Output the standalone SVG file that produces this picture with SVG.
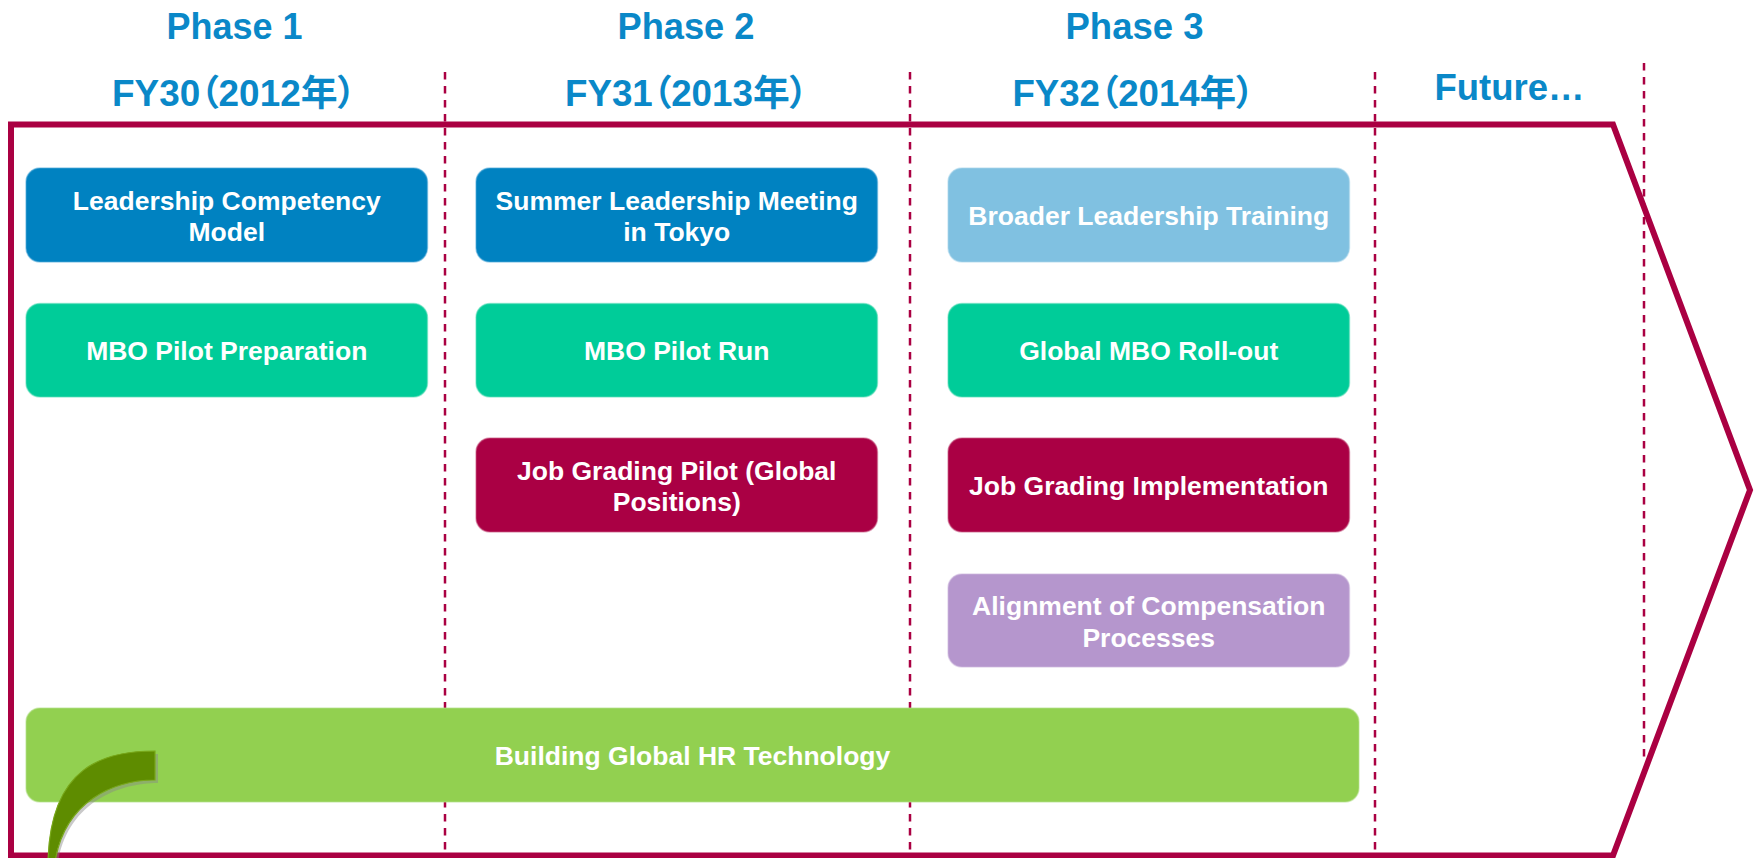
<svg xmlns="http://www.w3.org/2000/svg" width="1757" height="858" viewBox="0 0 1757 858">
<style>
.hdr{font-family:"Liberation Sans","Noto Sans CJK JP",Arial,sans-serif;font-weight:bold;font-size:36px;fill:#0A88C8;text-anchor:middle}
.fy{font-feature-settings:"palt" 1}
.bt{font-family:"Liberation Sans",Arial,sans-serif;font-weight:bold;font-size:26.5px;fill:#FFFFFF;text-anchor:middle}
.dash{stroke:#AA0042;stroke-width:2.5;stroke-dasharray:7.5 6.5;fill:none}
.box{stroke-width:1.5;stroke-opacity:0.5}
.blue{fill:#0082C1;stroke:#4DA8D8}
.teal{fill:#00CC99;stroke:#5ADDB8}
.crim{fill:#AA0044;stroke:#C85C84}
.lblue{fill:#80C1E1;stroke:#A8D6EC}
.lav{fill:#B596CD;stroke:#CDB8DD}
.lgreen{fill:#92D050;stroke:#B3E08A}
</style>
<rect width="1757" height="858" fill="#FFFFFF"/>
<g id="headers">
<text class="hdr" x="234.5" y="38.5" textLength="136" lengthAdjust="spacingAndGlyphs">Phase 1</text>
<text class="hdr" x="686" y="38.5" textLength="137" lengthAdjust="spacingAndGlyphs">Phase 2</text>
<text class="hdr" x="1134.5" y="38.5" textLength="138" lengthAdjust="spacingAndGlyphs">Phase 3</text>
<text class="hdr fy" x="234" y="106" textLength="244" lengthAdjust="spacingAndGlyphs">FY30（2012年）</text>
<text class="hdr fy" x="686.5" y="106" textLength="243" lengthAdjust="spacingAndGlyphs">FY31（2013年）</text>
<text class="hdr fy" x="1133.5" y="106" textLength="242" lengthAdjust="spacingAndGlyphs">FY32（2014年）</text>
<text class="hdr" x="1509.5" y="100" textLength="150" lengthAdjust="spacingAndGlyphs">Future…</text>
</g>
<g id="dividers">
<line class="dash" x1="445" y1="72" x2="445" y2="850"/>
<line class="dash" x1="910" y1="72" x2="910" y2="850"/>
<line class="dash" x1="1375" y1="72" x2="1375" y2="850"/>
<line class="dash" x1="1644" y1="63" x2="1644" y2="757"/>
</g>
<g id="frame">
<polygon points="11,124.5 1613,124.5 1750,490 1613,855.5 11,855.5" fill="none" stroke="#AA0042" stroke-width="6" stroke-linejoin="miter"/>
</g>
<g id="node-leadership-competency">
<rect class="box blue" x="26" y="168" width="401.5" height="94" rx="14"/>
<text class="bt" x="226.75" y="209.5">Leadership Competency</text>
<text class="bt" x="226.75" y="241">Model</text>
</g>
<g id="node-mbo-prep">
<rect class="box teal" x="26" y="303.5" width="401.5" height="93.5" rx="14"/>
<text class="bt" x="226.75" y="360">MBO Pilot Preparation</text>
</g>
<g id="node-summer-meeting">
<rect class="box blue" x="476" y="168" width="401.5" height="94" rx="14"/>
<text class="bt" x="676.75" y="209.5">Summer Leadership Meeting</text>
<text class="bt" x="676.75" y="241">in Tokyo</text>
</g>
<g id="node-mbo-run">
<rect class="box teal" x="476" y="303.5" width="401.5" height="93.5" rx="14"/>
<text class="bt" x="676.75" y="360">MBO Pilot Run</text>
</g>
<g id="node-job-grading-pilot">
<rect class="box crim" x="476" y="438" width="401.5" height="94" rx="14"/>
<text class="bt" x="676.75" y="479.5">Job Grading Pilot (Global</text>
<text class="bt" x="676.75" y="511">Positions)</text>
</g>
<g id="node-broader-training">
<rect class="box lblue" x="948" y="168" width="401.5" height="94" rx="14"/>
<text class="bt" x="1148.75" y="225">Broader Leadership Training</text>
</g>
<g id="node-global-mbo">
<rect class="box teal" x="948" y="303.5" width="401.5" height="93.5" rx="14"/>
<text class="bt" x="1148.75" y="360">Global MBO Roll-out</text>
</g>
<g id="node-job-grading-impl">
<rect class="box crim" x="948" y="438" width="401.5" height="94" rx="14"/>
<text class="bt" x="1148.75" y="495">Job Grading Implementation</text>
</g>
<g id="node-compensation">
<rect class="box lav" x="948" y="574" width="401.5" height="93" rx="14"/>
<text class="bt" x="1148.75" y="615">Alignment of Compensation</text>
<text class="bt" x="1148.75" y="646.5">Processes</text>
</g>
<g id="node-hr-technology">
<rect class="box lgreen" x="26" y="708" width="1333" height="94" rx="14"/>
<text class="bt" x="692.5" y="765">Building Global HR Technology</text>
</g>
<g id="swoosh">
<path d="M158,783 C118,783 68,803 58,862 L50,862 C52,773 108,754 158,754 Z" fill="#888888" fill-opacity="0.45"/>
<path d="M155,751 C105,751 50,765 48,862 L55,862 C65,800 115,780 155,780 Z" fill="#5E8C00" stroke="#78A81A" stroke-width="1.2"/>
</g>
</svg>
